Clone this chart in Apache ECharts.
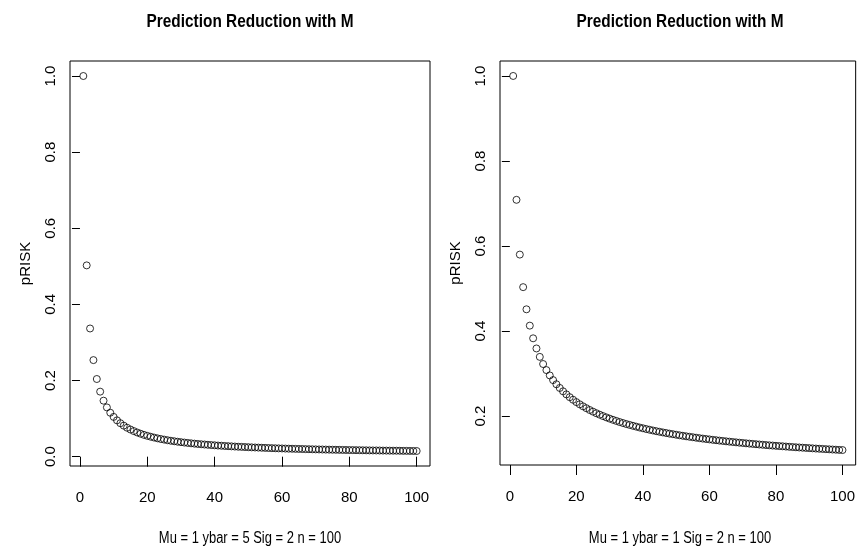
<!DOCTYPE html>
<html>
<head>
<meta charset="utf-8">
<title>Prediction Reduction with M</title>
<script src="https://cdn.jsdelivr.net/npm/echarts@6/dist/echarts.min.js"></script>
<style>
  html, body { margin: 0; padding: 0; background: #ffffff; }
  #chart { width: 858px; height: 549px; }
</style>
</head>
<body>
<div id="chart"></div>
<script>
// pRISK for M = 1..100, one value per M (first entry is M = 1)
var riskYbar5 = [
  1.0000, 0.5025, 0.3367, 0.2537, 0.2040, 0.1708, 0.1471, 0.1294, 0.1155, 0.1045,
  0.0954, 0.0879, 0.0815, 0.0760, 0.0713, 0.0672, 0.0635, 0.0603, 0.0573, 0.0547,
  0.0524, 0.0502, 0.0482, 0.0464, 0.0448, 0.0432, 0.0418, 0.0405, 0.0393, 0.0381,
  0.0371, 0.0361, 0.0351, 0.0342, 0.0334, 0.0326, 0.0319, 0.0312, 0.0305, 0.0299,
  0.0292, 0.0287, 0.0281, 0.0276, 0.0271, 0.0266, 0.0261, 0.0257, 0.0253, 0.0249,
  0.0245, 0.0241, 0.0238, 0.0234, 0.0231, 0.0227, 0.0224, 0.0221, 0.0218, 0.0216,
  0.0213, 0.0210, 0.0208, 0.0205, 0.0203, 0.0201, 0.0198, 0.0196, 0.0194, 0.0192,
  0.0190, 0.0188, 0.0186, 0.0184, 0.0182, 0.0181, 0.0179, 0.0177, 0.0176, 0.0174,
  0.0173, 0.0171, 0.0170, 0.0168, 0.0167, 0.0165, 0.0164, 0.0163, 0.0162, 0.0160,
  0.0159, 0.0158, 0.0157, 0.0156, 0.0155, 0.0153, 0.0152, 0.0151, 0.0150, 0.0149
];

var riskYbar1 = [
  1.0000, 0.7087, 0.5799, 0.5033, 0.4512, 0.4128, 0.3830, 0.3591, 0.3393, 0.3225,
  0.3082, 0.2957, 0.2847, 0.2749, 0.2662, 0.2583, 0.2511, 0.2445, 0.2385, 0.2329,
  0.2278, 0.2230, 0.2186, 0.2144, 0.2105, 0.2068, 0.2034, 0.2001, 0.1970, 0.1941,
  0.1913, 0.1887, 0.1861, 0.1837, 0.1814, 0.1793, 0.1772, 0.1752, 0.1732, 0.1714,
  0.1696, 0.1679, 0.1662, 0.1646, 0.1631, 0.1616, 0.1602, 0.1588, 0.1575, 0.1562,
  0.1549, 0.1537, 0.1525, 0.1514, 0.1503, 0.1492, 0.1481, 0.1471, 0.1461, 0.1452,
  0.1442, 0.1433, 0.1424, 0.1416, 0.1407, 0.1399, 0.1391, 0.1383, 0.1375, 0.1368,
  0.1360, 0.1353, 0.1346, 0.1339, 0.1332, 0.1326, 0.1319, 0.1313, 0.1307, 0.1301,
  0.1295, 0.1290, 0.1284, 0.1278, 0.1272, 0.1267, 0.1262, 0.1257, 0.1252, 0.1247,
  0.1242, 0.1237, 0.1232, 0.1228, 0.1223, 0.1219, 0.1214, 0.1210, 0.1205, 0.1202
];

var xTicks = [0, 20, 40, 60, 80, 100];
var yTicksLeft = [0.0, 0.2, 0.4, 0.6, 0.8, 1.0];
var yTicksRight = [0.2, 0.4, 0.6, 0.8, 1.0];

var panelTitle = 'Prediction Reduction with M';
var yName = 'pRISK';
var xNameLeft = 'Mu = 1 ybar = 5 Sig = 2 n = 100';
var xNameRight = 'Mu = 1 ybar = 1 Sig = 2 n = 100';

var fontFam = "'Liberation Sans', Arial, Helvetica, sans-serif";

// plot boxes (left, top, width, height)
var boxes = [
  { left: 70, top: 61, width: 360, height: 405 },
  { left: 500, top: 61, width: 360, height: 404 }
];
var textSquash = 0.81;   // condensed look for horizontal captions

// R-style axis range: data range padded by 4% on each side
function paddedRange(lo, hi) {
  var pad = (hi - lo) * 0.04;
  return [lo - pad, hi + pad];
}

function toPoints(values) {
  return values.map(function (v, i) { return [i + 1, v]; });
}

function xAxisFor(gridIndex) {
  var r = paddedRange(1, 100);
  return {
    type: 'value', gridIndex: gridIndex, min: r[0], max: r[1],
    axisLine: { show: false },
    splitLine: { show: false },
    axisTick: { show: true, inside: false, length: 10, customValues: xTicks,
                lineStyle: { color: '#000', width: 1 } },
    axisLabel: { customValues: xTicks, margin: 24, color: '#000',
                 fontFamily: fontFam, fontSize: 15 }
  };
}

function yAxisFor(gridIndex, values, ticks) {
  var lo = Math.min.apply(null, values), hi = Math.max.apply(null, values);
  var r = paddedRange(lo, hi);
  return {
    type: 'value', gridIndex: gridIndex, min: r[0], max: r[1],
    axisLine: { show: false },
    splitLine: { show: false },
    axisTick: { show: true, inside: false, length: 8, customValues: ticks,
                lineStyle: { color: '#000', width: 1 } },
    axisLabel: { customValues: ticks, rotate: 90, margin: 12, color: '#000',
                 fontFamily: fontFam, fontSize: 15,
                 formatter: function (v) { return Number(v).toFixed(1); } },
    name: yName, nameLocation: 'middle', nameRotate: 90, nameGap: 37,
    nameTextStyle: { color: '#000', fontFamily: fontFam, fontSize: 15 }
  };
}

function scatterFor(idx, values) {
  return {
    type: 'scatter', xAxisIndex: idx, yAxisIndex: idx,
    data: toPoints(values),
    symbol: 'circle', symbolSize: 7,
    itemStyle: { color: 'rgba(255,255,255,0)', borderColor: '#000', borderWidth: 1 },
    emphasis: { disabled: true },
    silent: true, animation: false
  };
}

function caption(text, cx, cy, bold, size) {
  return {
    type: 'text', x: cx, y: cy, scaleX: textSquash, silent: true,
    style: {
      text: text, fill: '#000',
      font: (bold ? 'bold ' : '') + size + 'px ' + fontFam,
      textAlign: 'center', textVerticalAlign: 'middle'
    }
  };
}

var captions = [];
boxes.forEach(function (b, i) {
  var cx = b.left + b.width / 2;
  captions.push(caption(panelTitle, cx, 22, true, 19));
  captions.push(caption(i === 0 ? xNameLeft : xNameRight, cx, 539, false, 16));
});

var chart = echarts.init(document.getElementById('chart'), null, { renderer: 'canvas' });

chart.setOption({
  backgroundColor: '#ffffff',
  animation: false,
  grid: boxes.map(function (b) {
    return { left: b.left, top: b.top, width: b.width, height: b.height, show: true,
             borderColor: '#000', borderWidth: 1, backgroundColor: 'transparent' };
  }),
  xAxis: [ xAxisFor(0), xAxisFor(1) ],
  yAxis: [ yAxisFor(0, riskYbar5, yTicksLeft), yAxisFor(1, riskYbar1, yTicksRight) ],
  series: [ scatterFor(0, riskYbar5), scatterFor(1, riskYbar1) ],
  graphic: captions
});
</script>
</body>
</html>
